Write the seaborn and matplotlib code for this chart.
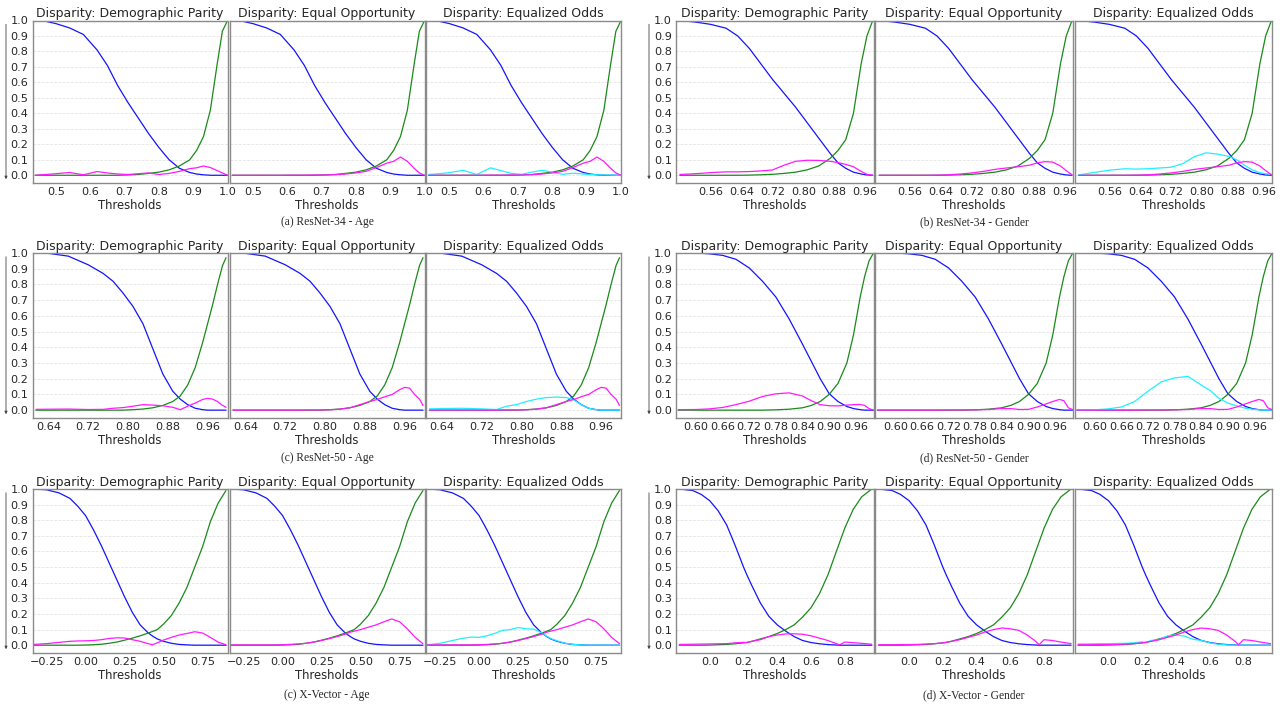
import numpy as np
import pandas as pd
import matplotlib
matplotlib.use("Agg")
import matplotlib.pyplot as plt
import matplotlib.patches as mpatches
import seaborn as sns

# Datos (umbral -> tasa / disparidad)

# (a) ResNet-34 - Age
r34_age_x = [0.44, 0.47, 0.50, 0.54, 0.58, 0.62, 0.65, 0.68, 0.71, 0.74, 0.77, 0.80, 0.83, 0.86, 0.89, 0.91, 0.93, 0.95, 0.97, 0.985, 1.0]
r34_age_fpr = [1.0, 0.995, 0.98, 0.952, 0.91, 0.81, 0.71, 0.58, 0.47, 0.37, 0.27, 0.18, 0.10, 0.045, 0.018, 0.008, 0.003, 0.0, 0.0, 0.0, 0.0]
r34_age_fnr = [0.0, 0.0, 0.0, 0.0, 0.0, 0.0, 0.0, 0.0, 0.002, 0.005, 0.012, 0.02, 0.035, 0.06, 0.10, 0.16, 0.25, 0.42, 0.72, 0.93, 1.0]
r34_age_dp = [0.0, 0.005, 0.01, 0.018, 0.003, 0.024, 0.015, 0.008, 0.005, 0.01, 0.015, 0.005, 0.012, 0.025, 0.043, 0.048, 0.06, 0.05, 0.03, 0.015, 0.0]
r34_age_eo = [0.0, 0.0, 0.0, 0.0, 0.0, 0.001, 0.001, 0.002, 0.002, 0.004, 0.008, 0.015, 0.025, 0.05, 0.078, 0.09, 0.118, 0.09, 0.045, 0.015, 0.0]
r34_age_eodds = [0.005, 0.01, 0.017, 0.032, 0.005, 0.048, 0.03, 0.012, 0.006, 0.02, 0.032, 0.02, 0.006, 0.013, 0.008, 0.005, 0.003, 0.002, 0.001, 0.0, 0.0]

# (b) ResNet-34 - Gender
r34_gen_x = [0.48, 0.52, 0.56, 0.60, 0.63, 0.66, 0.69, 0.72, 0.75, 0.78, 0.81, 0.84, 0.87, 0.89, 0.91, 0.93, 0.95, 0.965, 0.98]
r34_gen_fpr = [1.0, 0.99, 0.975, 0.95, 0.90, 0.82, 0.72, 0.62, 0.53, 0.44, 0.34, 0.24, 0.14, 0.08, 0.045, 0.02, 0.008, 0.002, 0.0]
r34_gen_fnr = [0.0, 0.0, 0.0, 0.0, 0.0, 0.001, 0.003, 0.006, 0.012, 0.02, 0.035, 0.06, 0.11, 0.16, 0.23, 0.40, 0.72, 0.90, 1.0]
r34_gen_dp = [0.005, 0.01, 0.017, 0.022, 0.022, 0.024, 0.028, 0.034, 0.065, 0.09, 0.097, 0.096, 0.09, 0.082, 0.07, 0.055, 0.025, 0.006, 0.0]
r34_gen_eo = [0.0, 0.0, 0.0, 0.0, 0.001, 0.003, 0.008, 0.015, 0.025, 0.038, 0.047, 0.055, 0.065, 0.08, 0.088, 0.085, 0.06, 0.03, 0.003]
r34_gen_eodds = [0.002, 0.018, 0.033, 0.042, 0.04, 0.042, 0.047, 0.052, 0.075, 0.12, 0.145, 0.137, 0.122, 0.10, 0.065, 0.035, 0.017, 0.01, 0.006]

# (c) ResNet-50 - Age
r50_age_x = [0.615, 0.64, 0.68, 0.72, 0.75, 0.77, 0.79, 0.81, 0.83, 0.85, 0.87, 0.89, 0.905, 0.92, 0.935, 0.95, 0.96, 0.97, 0.98, 0.99, 0.997]
r50_age_fpr = [1.0, 0.998, 0.98, 0.925, 0.87, 0.82, 0.745, 0.66, 0.55, 0.39, 0.23, 0.12, 0.07, 0.035, 0.012, 0.003, 0.0, 0.0, 0.0, 0.0, 0.0]
r50_age_fnr = [0.0, 0.0, 0.0, 0.0, 0.0, 0.0, 0.0, 0.003, 0.007, 0.015, 0.03, 0.055, 0.09, 0.16, 0.27, 0.43, 0.55, 0.67, 0.80, 0.92, 0.97]
r50_age_dp = [0.005, 0.006, 0.007, 0.004, 0.005, 0.012, 0.016, 0.025, 0.035, 0.032, 0.028, 0.018, 0.003, 0.025, 0.045, 0.068, 0.075, 0.07, 0.055, 0.03, 0.018]
r50_age_eo = [0.0, 0.0, 0.0, 0.0, 0.0, 0.001, 0.001, 0.002, 0.006, 0.015, 0.035, 0.055, 0.068, 0.085, 0.10, 0.13, 0.145, 0.14, 0.10, 0.07, 0.03]
r50_age_eodds = [0.008, 0.01, 0.012, 0.008, 0.004, 0.025, 0.035, 0.055, 0.07, 0.08, 0.083, 0.08, 0.065, 0.035, 0.012, 0.003, 0.0, 0.0, 0.0, 0.0, 0.0]

# (d) ResNet-50 - Gender
r50_gen_x = [0.56, 0.60, 0.63, 0.66, 0.69, 0.72, 0.75, 0.78, 0.81, 0.84, 0.86, 0.88, 0.90, 0.92, 0.94, 0.955, 0.97, 0.98, 0.99, 1.0]
r50_gen_fpr = [1.0, 1.0, 0.995, 0.985, 0.96, 0.905, 0.82, 0.72, 0.58, 0.42, 0.31, 0.20, 0.105, 0.055, 0.023, 0.01, 0.003, 0.0, 0.0, 0.0]
r50_gen_fnr = [0.0, 0.0, 0.0, 0.0, 0.0, 0.0, 0.0, 0.002, 0.006, 0.015, 0.03, 0.055, 0.10, 0.17, 0.30, 0.48, 0.72, 0.85, 0.95, 1.0]
r50_gen_dp = [0.003, 0.004, 0.008, 0.017, 0.035, 0.057, 0.087, 0.104, 0.11, 0.09, 0.06, 0.035, 0.028, 0.027, 0.032, 0.035, 0.036, 0.03, 0.01, 0.0]
r50_gen_eo = [0.0, 0.0, 0.0, 0.0, 0.0, 0.001, 0.001, 0.002, 0.004, 0.01, 0.01, 0.004, 0.005, 0.02, 0.04, 0.055, 0.068, 0.06, 0.015, 0.003]
r50_gen_eodds = [0.0, 0.002, 0.008, 0.02, 0.055, 0.12, 0.18, 0.205, 0.215, 0.16, 0.125, 0.076, 0.045, 0.027, 0.012, 0.006, 0.002, 0.0, 0.0, 0.0]

# (c) X-Vector - Age
xv_age_x = [-0.33, -0.25, -0.17, -0.10, -0.05, 0.0, 0.05, 0.10, 0.15, 0.20, 0.25, 0.30, 0.35, 0.40, 0.43, 0.46, 0.50, 0.55, 0.60, 0.65, 0.70, 0.75, 0.80, 0.85, 0.90]
xv_age_fpr = [1.0, 0.995, 0.975, 0.94, 0.89, 0.83, 0.74, 0.64, 0.53, 0.42, 0.31, 0.21, 0.13, 0.08, 0.058, 0.04, 0.025, 0.012, 0.005, 0.002, 0.0, 0.0, 0.0, 0.0, 0.0]
xv_age_fnr = [0.0, 0.0, 0.0, 0.0, 0.0, 0.001, 0.003, 0.006, 0.012, 0.02, 0.032, 0.045, 0.06, 0.077, 0.088, 0.10, 0.135, 0.19, 0.27, 0.37, 0.50, 0.63, 0.79, 0.91, 0.99]
xv_age_dp = [0.005, 0.01, 0.018, 0.025, 0.027, 0.028, 0.03, 0.035, 0.043, 0.047, 0.046, 0.035, 0.025, 0.01, 0.003, 0.015, 0.033, 0.05, 0.065, 0.075, 0.086, 0.078, 0.05, 0.02, 0.003]
xv_age_eo = [0.002, 0.002, 0.002, 0.002, 0.002, 0.003, 0.005, 0.008, 0.012, 0.02, 0.03, 0.042, 0.055, 0.07, 0.082, 0.09, 0.10, 0.115, 0.13, 0.15, 0.168, 0.15, 0.105, 0.05, 0.01]
xv_age_eodds = [0.003, 0.012, 0.03, 0.045, 0.052, 0.05, 0.06, 0.075, 0.095, 0.10, 0.113, 0.105, 0.103, 0.08, 0.06, 0.042, 0.028, 0.013, 0.005, 0.002, 0.0, 0.0, 0.0, 0.0, 0.0]

# (d) X-Vector - Gender
xv_gen_x = [-0.18, -0.10, -0.05, 0.0, 0.05, 0.10, 0.15, 0.20, 0.22, 0.25, 0.30, 0.35, 0.40, 0.45, 0.50, 0.55, 0.60, 0.65, 0.70, 0.75, 0.77, 0.80, 0.85, 0.90, 0.96]
xv_gen_fpr = [1.0, 0.99, 0.965, 0.925, 0.86, 0.77, 0.64, 0.50, 0.45, 0.38, 0.27, 0.185, 0.13, 0.09, 0.055, 0.03, 0.017, 0.009, 0.004, 0.001, 0.0, 0.0, 0.0, 0.0, 0.0]
xv_gen_fnr = [0.0, 0.0, 0.0, 0.001, 0.003, 0.005, 0.009, 0.015, 0.018, 0.025, 0.04, 0.055, 0.075, 0.10, 0.13, 0.18, 0.24, 0.33, 0.45, 0.60, 0.66, 0.75, 0.87, 0.95, 1.0]
xv_gen_dp = [0.005, 0.006, 0.007, 0.008, 0.009, 0.01, 0.015, 0.018, 0.016, 0.025, 0.035, 0.055, 0.065, 0.072, 0.073, 0.07, 0.06, 0.045, 0.03, 0.01, 0.003, 0.02, 0.016, 0.012, 0.006]
xv_gen_eo = [0.003, 0.003, 0.004, 0.004, 0.005, 0.007, 0.01, 0.015, 0.018, 0.024, 0.035, 0.05, 0.065, 0.085, 0.10, 0.11, 0.105, 0.095, 0.065, 0.025, 0.003, 0.035, 0.03, 0.02, 0.01]
xv_gen_eodds = [0.008, 0.009, 0.01, 0.01, 0.011, 0.012, 0.015, 0.022, 0.014, 0.03, 0.035, 0.06, 0.066, 0.058, 0.038, 0.03, 0.015, 0.006, 0.002, 0.0, 0.0, 0.0, 0.0, 0.0, 0.0]

# Ejes x de cada panel
r34_age_ticks = [0.5, 0.6, 0.7, 0.8, 0.9, 1.0]
r34_gen_ticks = [0.56, 0.64, 0.72, 0.80, 0.88, 0.96]
r50_age_ticks = [0.64, 0.72, 0.80, 0.88, 0.96]
r50_gen_ticks = [0.60, 0.66, 0.72, 0.78, 0.84, 0.90, 0.96]
xv_age_ticks = [-0.25, 0.0, 0.25, 0.50, 0.75]
xv_gen_ticks = [0.0, 0.2, 0.4, 0.6, 0.8]

titles = ["Disparity: Demographic Parity", "Disparity: Equal Opportunity", "Disparity: Equalized Odds"]
y_ticks = [0.0, 0.1, 0.2, 0.3, 0.4, 0.5, 0.6, 0.7, 0.8, 0.9, 1.0]

panels = [
    dict(x=r34_age_x, fpr=r34_age_fpr, fnr=r34_age_fnr, dp=r34_age_dp, eo=r34_age_eo, eodds=r34_age_eodds,
         xlim=(0.432, 1.0), ticks=r34_age_ticks, fmt="{:.1f}", caption="(a) ResNet-34 - Age", row=0, side=0),
    dict(x=r34_gen_x, fpr=r34_gen_fpr, fnr=r34_gen_fnr, dp=r34_gen_dp, eo=r34_gen_eo, eodds=r34_gen_eodds,
         xlim=(0.47, 0.982), ticks=r34_gen_ticks, fmt="{:.2f}", caption="(b) ResNet-34 - Gender", row=0, side=1),
    dict(x=r50_age_x, fpr=r50_age_fpr, fnr=r50_age_fnr, dp=r50_age_dp, eo=r50_age_eo, eodds=r50_age_eodds,
         xlim=(0.608, 1.0), ticks=r50_age_ticks, fmt="{:.2f}", caption="(c) ResNet-50 - Age", row=1, side=0),
    dict(x=r50_gen_x, fpr=r50_gen_fpr, fnr=r50_gen_fnr, dp=r50_gen_dp, eo=r50_gen_eo, eodds=r50_gen_eodds,
         xlim=(0.555, 1.0), ticks=r50_gen_ticks, fmt="{:.2f}", caption="(d) ResNet-50 - Gender", row=1, side=1),
    dict(x=xv_age_x, fpr=xv_age_fpr, fnr=xv_age_fnr, dp=xv_age_dp, eo=xv_age_eo, eodds=xv_age_eodds,
         xlim=(-0.34, 0.91), ticks=xv_age_ticks, fmt="{:.2f}", caption="(c) X-Vector - Age", row=2, side=0),
    dict(x=xv_gen_x, fpr=xv_gen_fpr, fnr=xv_gen_fnr, dp=xv_gen_dp, eo=xv_gen_eo, eodds=xv_gen_eodds,
         xlim=(-0.2, 0.97), ticks=xv_gen_ticks, fmt="{:.1f}", caption="(d) X-Vector - Gender", row=2, side=1),
]

# Estilo

sns.set_theme(style="white")
plt.rcParams["font.family"] = ["DejaVu Sans"]

W, H = 1280, 705
fig = plt.figure(figsize=(W / 100, H / 100), dpi=100)

row_top = [20.5, 253.0, 489.0]
row_bot = [183.0, 418.0, 653.0]
group_lefts = [[32.5, 229.5, 426.0], [676.0, 875.3, 1074.7]]
group_width = [195.0, 197.5]
arrow_x = [6.0, 649.0]
caption_x = [327.0, 974.0]
caption_y = [222.0, 458.0, 695.0]

SPINE = "#8a8a8a"


def px_axes(left, top, width, height):
    return fig.add_axes([left / W, 1 - (top + height) / H, width / W, height / H])


def fmt_tick(v, fmt):
    s = fmt.format(v)
    return s.replace("-", "\u2212")


for p in panels:
    r, s = p["row"], p["side"]
    top, bot = row_top[r], row_bot[r]
    for k in range(3):
        ax = px_axes(group_lefts[s][k], top, group_width[s], bot - top)
        ax.set_facecolor("white")
        sns.lineplot(x=p["x"], y=p["fpr"], ax=ax, color="#1414ff", linewidth=0.9, legend=False)
        sns.lineplot(x=p["x"], y=p["fnr"], ax=ax, color="#1a8a1a", linewidth=0.9, legend=False)
        if k == 2:
            sns.lineplot(x=p["x"], y=p["eodds"], ax=ax, color="#1ef0ff", linewidth=0.9, legend=False)
        curva = p["dp"] if k == 0 else p["eo"]
        sns.lineplot(x=p["x"], y=curva, ax=ax, color="#ff1aff", linewidth=0.9, legend=False)

        ax.set_xlim(*p["xlim"])
        ax.set_ylim(-0.05, 1.0)
        ax.set_yticks(y_ticks)
        ax.grid(axis="y", color="#dedede", linestyle=(0, (4, 2)), linewidth=0.5)
        ax.grid(axis="x", visible=False)
        ax.set_axisbelow(True)
        ax.set_xticks(p["ticks"])
        ax.set_xticklabels([fmt_tick(v, p["fmt"]) for v in p["ticks"]], fontsize=8.1)
        if k == 0:
            ax.set_yticklabels(["{:.1f}".format(v) for v in y_ticks], fontsize=8.1)
        else:
            ax.set_yticklabels([])
        ax.tick_params(length=0, pad=3)
        for sp in ax.spines.values():
            sp.set_color(SPINE)
            sp.set_linewidth(1.0)
        ax.set_title(titles[k], fontsize=9.0, pad=2.5)
        ax.set_xlabel("Thresholds", fontsize=8.4, labelpad=1)
        ax.set_ylabel("")

    # flecha del eje y
    arr = mpatches.FancyArrowPatch((arrow_x[s] / W, 1 - (top + 1) / H), (arrow_x[s] / W, 1 - (bot - 1) / H),
                                   transform=fig.transFigure, arrowstyle="-|>", mutation_scale=4,
                                   linewidth=0.6, color="#444444")
    fig.add_artist(arr)

    fig.text(caption_x[s] / W, 1 - caption_y[r] / H, p["caption"], ha="center", va="center",
             fontsize=8.3, family="Liberation Serif")

fig.savefig("out.png", dpi=100, facecolor="white")
